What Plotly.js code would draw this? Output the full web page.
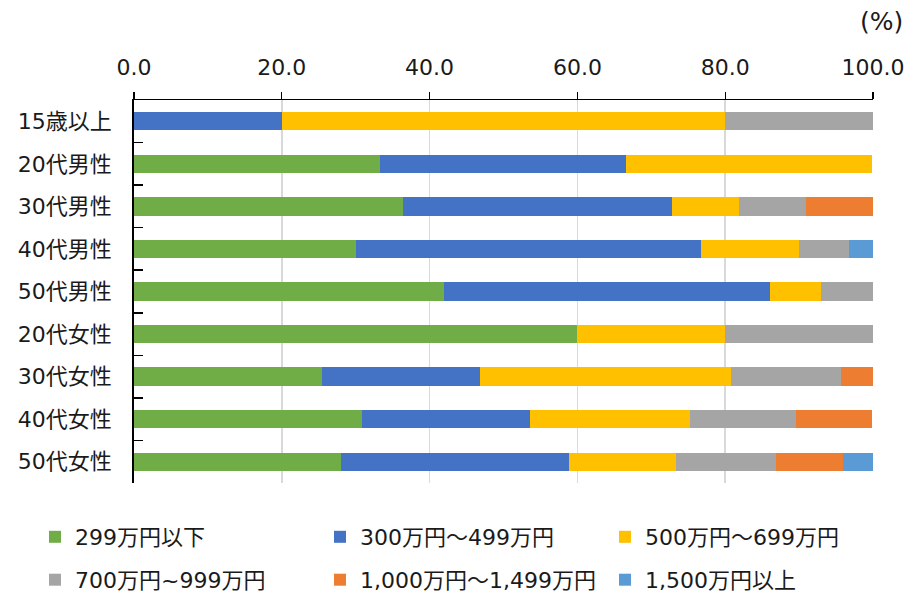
<!DOCTYPE html>
<html>
<head>
<meta charset="utf-8">
<script src="https://cdn.plot.ly/plotly-3.0.1.min.js"></script>
<style>html,body{margin:0;padding:0;background:#fff;}#chart{width:913px;height:596px;}</style>
</head>
<body>
<div id="chart"></div>
<script>
const categories = ["15歳以上","20代男性","30代男性","40代男性","50代男性","20代女性","30代女性","40代女性","50代女性"];
const seriesNames = ["299万円以下","300万円～499万円","500万円～699万円","700万円~999万円","1,000万円～1,499万円","1,500万円以上"];
const under299 = [0, 33.3, 36.4, 30.0, 42.0, 60.0, 25.5, 30.9, 28.0];
const from300to499 = [20.0, 33.3, 36.4, 46.7, 44.0, 0, 21.3, 22.7, 30.8];
const from500to699 = [60.0, 33.3, 9.1, 13.3, 7.0, 20.0, 34.0, 21.6, 14.6];
const from700to999 = [20.0, 0, 9.1, 6.7, 7.0, 20.0, 14.9, 14.4, 13.5];
const from1000to1499 = [0, 0, 9.1, 0, 0, 0, 4.3, 10.3, 9.1];
const over1500 = [0, 0, 0, 3.3, 0, 0, 0, 0, 4.0];
const xTicks = [0, 20, 40, 60, 80, 100];

const seriesValues = [under299, from300to499, from500to699, from700to999, from1000to1499, over1500];
const colors = ["#70ad47","#4472c4","#ffc000","#a5a5a5","#ed7d31","#5b9bd5"];
const FONT = "'DejaVu Sans', 'Noto Sans CJK JP', sans-serif";
const FS = 22;

const traces = seriesValues.map((vals, i) => ({
  type: 'bar',
  orientation: 'h',
  name: seriesNames[i],
  y: categories,
  x: vals,
  legend: i < 3 ? 'legend' : 'legend2',
  marker: {color: colors[i], line: {width: 0}},
  hoverinfo: 'none'
}));

const legendBase = {
  orientation: 'h',
  xref: 'paper', yref: 'paper',
  x: -0.134, xanchor: 'left', yanchor: 'middle',
  entrywidth: 240, entrywidthmode: 'pixels',
  traceorder: 'normal',
  font: {size: FS, family: FONT, color: '#1a1a1a'},
  bgcolor: 'rgba(0,0,0,0)',
  itemclick: false, itemdoubleclick: false
};

const layout = {
  width: 913, height: 596,
  margin: {l: 134, r: 40, t: 100, b: 113, autoexpand: false},
  barmode: 'stack',
  bargap: 0.57,
  paper_bgcolor: '#fff',
  plot_bgcolor: '#fff',
  font: {family: FONT, size: FS, color: '#1a1a1a'},
  xaxis: {
    side: 'top',
    range: [0, 100],
    tickvals: xTicks,
    ticktext: xTicks.map(v => v.toFixed(1)),
    ticks: 'outside', ticklen: 7, tickwidth: 1.3, tickcolor: '#000',
    ticklabelstandoff: 8,
    showline: true, linecolor: '#000', linewidth: 1.5,
    showgrid: true, gridcolor: '#d9d9d9', gridwidth: 1.5,
    zeroline: false,
    tickfont: {size: FS, family: FONT, color: '#1a1a1a'},
    fixedrange: true
  },
  yaxis: {
    autorange: 'reversed',
    type: 'category',
    ticks: 'inside', ticklen: 9, tickwidth: 1.5, tickcolor: '#000',
    tickson: 'boundaries',
    showline: true, linecolor: '#000', linewidth: 1.8,
    showgrid: false, zeroline: false,
    ticklabelstandoff: 16,
    tickfont: {size: FS, family: FONT, color: '#1a1a1a'},
    fixedrange: true
  },
  showlegend: true,
  legend: Object.assign({}, legendBase, {y: -0.141}),
  legend2: Object.assign({}, legendBase, {y: -0.253}),
  annotations: [{
    text: '(%)', xref: 'paper', yref: 'paper', x: 1.0433, y: 1.2037,
    xanchor: 'right', yanchor: 'middle', showarrow: false,
    font: {size: 25, family: FONT, color: '#1a1a1a'}
  }]
};

Plotly.newPlot('chart', traces, layout, {displayModeBar: false, staticPlot: true});
</script>
</body>
</html>
